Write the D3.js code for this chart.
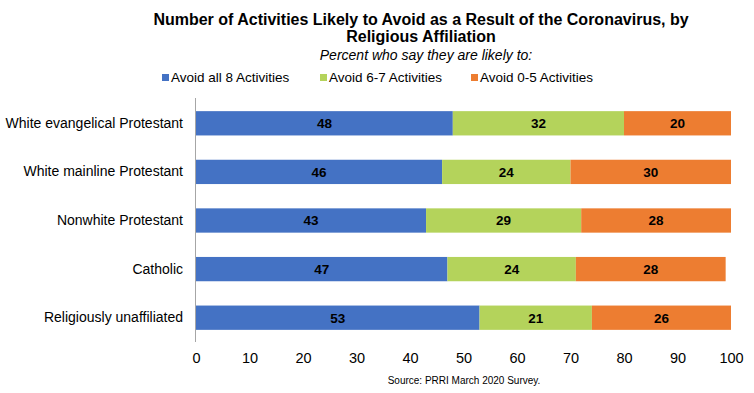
<!DOCTYPE html>
<html>
<head>
<meta charset="utf-8">
<script src="https://cdn.jsdelivr.net/npm/d3@7"></script>
<style>
  body { margin: 0; background: #fff; }
  text { font-family: "Liberation Sans", Arial, sans-serif; }
</style>
</head>
<body>
<div id="chart"></div>
<script>
const width = 754;
const height = 393;

// Data.
const categories = [
  "White evangelical Protestant",
  "White mainline Protestant",
  "Nonwhite Protestant",
  "Catholic",
  "Religiously unaffiliated"
];
const seriesNames = ["Avoid all 8 Activities", "Avoid 6-7 Activities", "Avoid 0-5 Activities"];
const avoidAll8 = [48, 46, 43, 47, 53];
const avoid6to7 = [32, 24, 29, 24, 21];
const avoid0to5 = [20, 30, 28, 28, 26];
const xTicks = [0, 10, 20, 30, 40, 50, 60, 70, 80, 90, 100];

const colours = ["#4472C4", "#B4D35B", "#ED7D31"];

const rows = categories.map((c, i) => ({
  category: c,
  s0: avoidAll8[i],
  s1: avoid6to7[i],
  s2: avoid0to5[i]
}));

const stack = d3.stack().keys(["s0", "s1", "s2"])(rows);

const x = d3.scaleLinear().domain([0, 100]).range([196, 731]);
const y = d3.scaleBand().domain(categories).range([99, 342])
  .paddingInner(0.5).paddingOuter(0.25);

const svg = d3.select("#chart")
  .append("svg")
  .attr("width", width)
  .attr("height", height);

// Titles.
svg.append("text")
  .attr("x", 421).attr("y", 25)
  .attr("text-anchor", "middle")
  .attr("font-size", 16).attr("font-weight", "bold")
  .text("Number of Activities Likely to Avoid as a Result of the Coronavirus, by");
svg.append("text")
  .attr("x", 421).attr("y", 42)
  .attr("text-anchor", "middle")
  .attr("font-size", 16).attr("font-weight", "bold")
  .text("Religious Affiliation");
svg.append("text")
  .attr("x", 426).attr("y", 60)
  .attr("text-anchor", "middle")
  .attr("font-size", 14).attr("font-style", "italic")
  .text("Percent who say they are likely to:");

// Legend.
const legendX = [162, 320, 471];
const legend = svg.append("g")
  .selectAll("g")
  .data(seriesNames)
  .join("g")
  .attr("transform", (d, i) => `translate(${legendX[i]},74)`);
legend.append("rect")
  .attr("width", 7).attr("height", 7)
  .attr("fill", (d, i) => colours[i]);
legend.append("text")
  .attr("x", 9).attr("y", 8)
  .attr("font-size", 13.5)
  .text(d => d);

// Bars.
const layer = svg.append("g")
  .selectAll("g")
  .data(stack)
  .join("g")
  .attr("fill", (d, i) => colours[i]);

layer.selectAll("rect")
  .data(d => d)
  .join("rect")
  .attr("x", d => x(d[0]))
  .attr("y", d => y(d.data.category))
  .attr("width", d => x(d[1]) - x(d[0]))
  .attr("height", y.bandwidth());

layer.selectAll("text")
  .data(d => d)
  .join("text")
  .attr("x", d => (x(d[0]) + x(d[1])) / 2)
  .attr("y", d => y(d.data.category) + y.bandwidth() / 2)
  .attr("dy", "0.36em")
  .attr("text-anchor", "middle")
  .attr("font-size", 13.5)
  .attr("font-weight", "bold")
  .attr("fill", "#000")
  .text(d => d[1] - d[0]);

// Category axis.
const yAxis = svg.append("g")
  .attr("transform", "translate(195,0)")
  .call(d3.axisLeft(y).tickSize(0).tickPadding(12));
yAxis.select(".domain")
  .attr("stroke", "#a6a6a6")
  .attr("d", "M0.5,98V342");
yAxis.selectAll("text")
  .attr("font-size", 14)
  .attr("font-family", "Liberation Sans, Arial, sans-serif")
  .attr("fill", "#000");

// Value axis.
const xAxis = svg.append("g")
  .attr("transform", "translate(0,350)")
  .call(d3.axisBottom(x).tickValues(xTicks).tickSize(0).tickPadding(3));
xAxis.select(".domain").remove();
xAxis.selectAll("text")
  .attr("font-size", 14.5)
  .attr("font-family", "Liberation Sans, Arial, sans-serif")
  .attr("fill", "#000");

// Source.
svg.append("text")
  .attr("x", 464).attr("y", 384)
  .attr("text-anchor", "middle")
  .attr("font-size", 10)
  .text("Source: PRRI March 2020 Survey.");
</script>
</body>
</html>
